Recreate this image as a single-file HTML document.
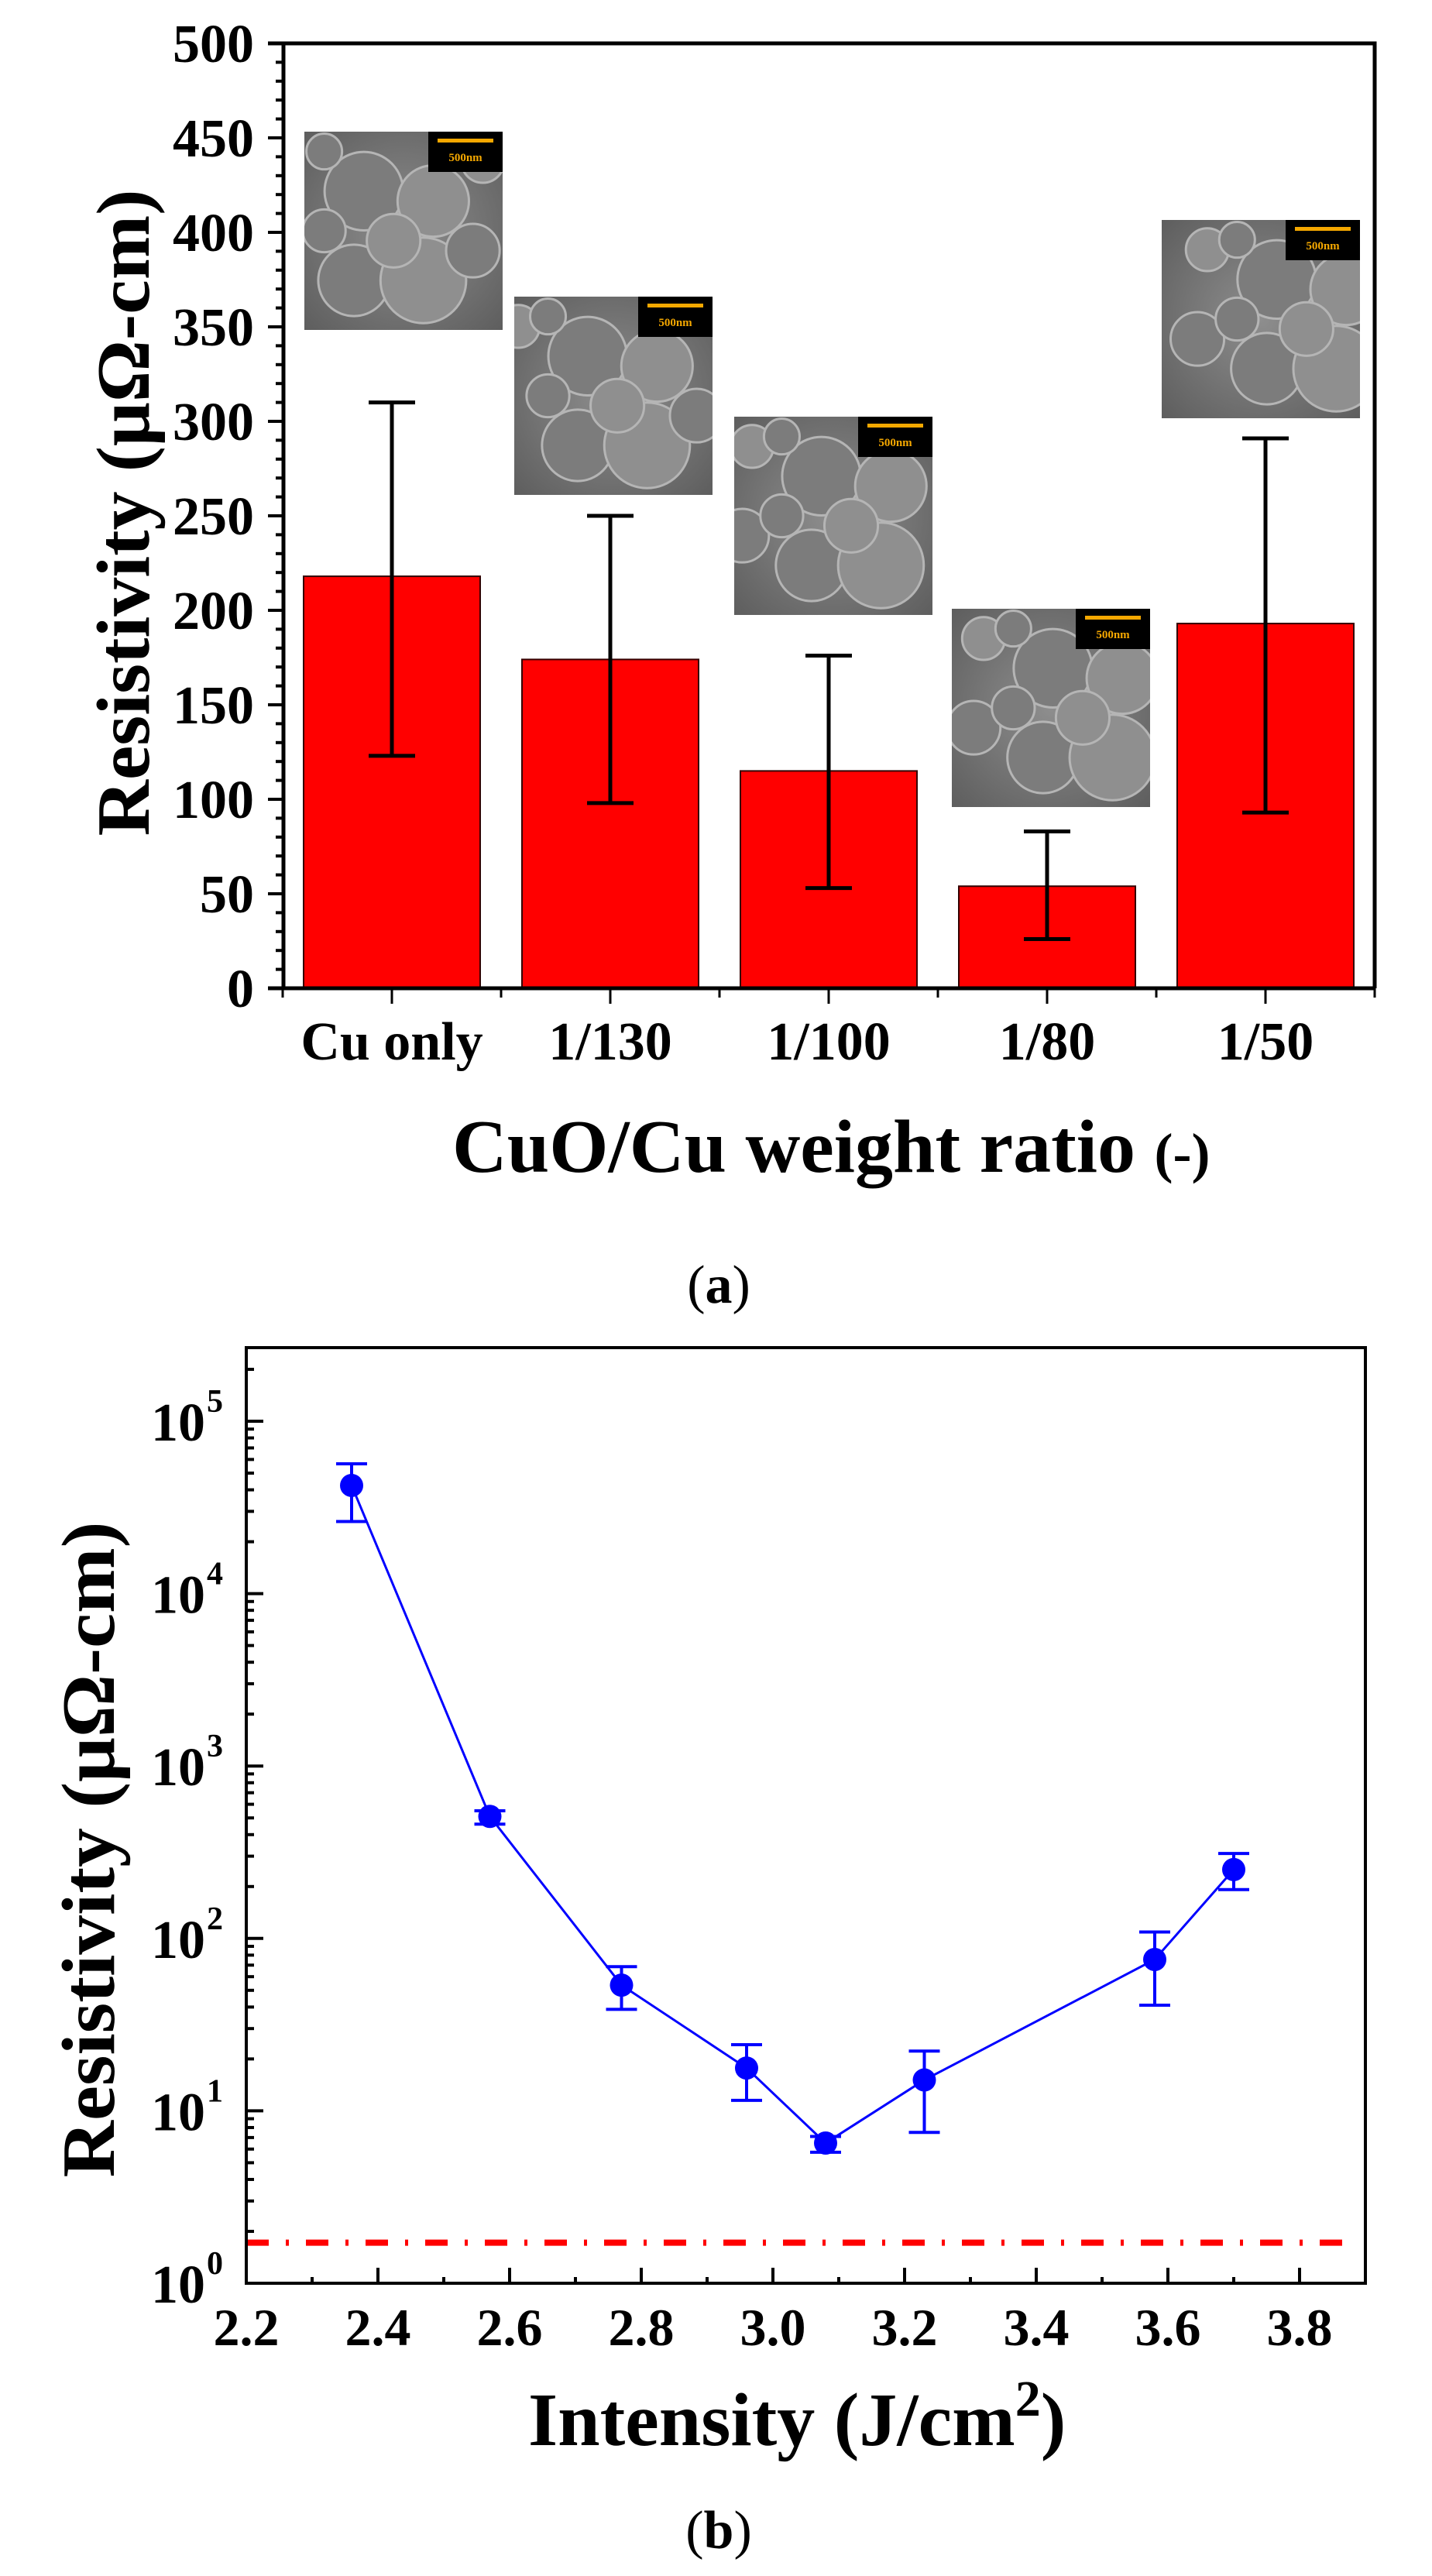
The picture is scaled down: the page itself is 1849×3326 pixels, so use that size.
<!DOCTYPE html>
<html><head><meta charset="utf-8"><style>
html,body{margin:0;padding:0;background:#fff;}
svg{display:block;font-family:"Liberation Serif",serif;}
</style></head><body>
<svg id="fig" width="1849" height="3326" viewBox="0 0 1849 3326" xmlns="http://www.w3.org/2000/svg">
<defs>
<radialGradient id="sem" cx="50%" cy="50%" r="70%"><stop offset="0" stop-color="#8e8e8e"/><stop offset="1" stop-color="#5e5e5e"/></radialGradient>
</defs>
<g id="chartA"></g>
<g id="chartB"></g>
<text x="928" y="1682" font-size="70" text-anchor="middle">(<tspan font-weight="bold">a</tspan>)</text>
<text x="928" y="3290" font-size="70" text-anchor="middle">(<tspan font-weight="bold">b</tspan>)</text>
</svg>
<script>
// ---- Chart A data ----
const catsA = ["Cu only","1/130","1/100","1/80","1/50"];
const valsA = [218,174,115,54,193];
const errHiA = [310,250,176,83,291];
const errLoA = [123,98,53,26,93];
const yTicksA = [0,50,100,150,200,250,300,350,400,450,500];
// ---- Chart B data ----
const xB = [2.36,2.57,2.77,2.96,3.08,3.23,3.58,3.70];
const yB = [42400,510,53.6,17.7,6.5,15.1,75.5,251];
const yBhi = [56600,550,68.6,24.2,7.1,22.2,109,311];
const yBlo = [26200,460,38.8,11.5,5.75,7.5,41,192];
const xTicksB = ["2.2","2.4","2.6","2.8","3.0","3.2","3.4","3.6","3.8"];
const yTicksBExp = [0,1,2,3,4,5];
const refLineB = [1.72];

const NS="http://www.w3.org/2000/svg";
function mk(parent,tag,attrs,text){const e=document.createElementNS(NS,tag);for(const k in attrs)e.setAttribute(k,attrs[k]);if(text!==undefined)e.textContent=text;parent.appendChild(e);return e;}

// ===== Chart A =====
(function(){
const g=document.getElementById('chartA');
const L=366,R=1775,T=56,B=1276;
const yS=v=>B-(v/500)*(B-T);
const c0=506,step=282,bw=228;
const xS=i=>c0+i*step;
const defs=document.querySelector('defs');
const sem=[[393,170],[664,383],[948,538],[1229,786],[1500,284]];
const blobs=[[0.3,0.3,0.22],[0.65,0.35,0.2],[0.25,0.75,0.2],[0.6,0.75,0.24],[0.85,0.6,0.15],[0.45,0.55,0.15],[0.1,0.5,0.12],[0.9,0.15,0.12],[0.1,0.1,0.1]];
sem.forEach((p,k)=>{
  const cp=mk(defs,'clipPath',{id:'semclip'+k});
  mk(cp,'rect',{x:p[0],y:p[1],width:256,height:256});
  const s=mk(g,'g',{'clip-path':'url(#semclip'+k+')'});
  
  
  mk(s,'rect',{x:p[0],y:p[1],width:256,height:256,fill:'url(#sem)'});
  blobs.forEach((b,j)=>{mk(s,'circle',{cx:p[0]+256*((b[0]+k*0.07)%0.95),cy:p[1]+256*b[1],r:256*b[2]*0.9,fill:j%2?'#8f8f8f':'#7c7c7c',stroke:'#b5b5b5','stroke-width':3});});
  mk(s,'rect',{x:p[0]+160,y:p[1],width:96,height:52,fill:'#000'});
  mk(s,'rect',{x:p[0]+172,y:p[1]+9,width:72,height:5,fill:'#f5a800'});
  mk(s,'text',{x:p[0]+208,y:p[1]+38,'font-size':15,'font-weight':'bold',fill:'#f5a800','text-anchor':'middle'},'500nm');
});
valsA.forEach((v,i)=>{
  const r=mk(g,'rect',{x:xS(i)-bw/2,y:yS(v),width:bw,height:B-yS(v),fill:'#ff0000',stroke:'#300',"stroke-width":2});
  
  
  const e=mk(g,'path',{d:`M${xS(i)},${yS(errHiA[i])}V${yS(errLoA[i])}M${xS(i)-30},${yS(errHiA[i])}h60M${xS(i)-30},${yS(errLoA[i])}h60`,stroke:'#000','stroke-width':5,fill:'none'});
  
  
  const t=mk(g,'text',{x:xS(i),y:1368,'font-size':70,'font-weight':'bold','text-anchor':'middle'},catsA[i]);
  
  
  mk(g,'line',{x1:xS(i),y1:B,x2:xS(i),y2:B+20,stroke:'#000','stroke-width':3});
  mk(g,'line',{x1:xS(i)-step/2,y1:B,x2:xS(i)-step/2,y2:B+12,stroke:'#000','stroke-width':3});
});
mk(g,'line',{x1:xS(4)+step/2,y1:B,x2:xS(4)+step/2,y2:B+12,stroke:'#000','stroke-width':3});
mk(g,'path',{d:`M${L-20},${T}H${R}V${B}M${L},${T}V${B}M${L-20},${B}H${R}`,stroke:'#000','stroke-width':5,fill:'none'});
for(let v=0;v<=500;v+=10){mk(g,'line',{x1:L,y1:yS(v),x2:L-(v%50?10:20),y2:yS(v),stroke:'#000','stroke-width':4});}
yTicksA.forEach(v=>{const t=mk(g,'text',{x:328,y:yS(v)+24,'font-size':70,'font-weight':'bold','text-anchor':'end'},String(v));
  
  });
const yt=mk(g,'text',{x:0,y:0,'font-size':98,'font-weight':'bold','text-anchor':'middle',transform:'translate(192,662) rotate(-90)',textLength:835,lengthAdjust:'spacingAndGlyphs'},'Resistivity (μΩ-cm)');


const xt=mk(g,'text',{x:584,y:1513,'font-size':98,'font-weight':'bold'});


mk(xt,'tspan',{},'CuO/Cu weight ratio ');mk(xt,'tspan',{'font-size':72},'(-)');
})();

// ===== Chart B =====
(function(){
const g=document.getElementById('chartB');
const L=318,R=1763,T=1740,B=2948;
const dec=222.6;
const xS=x=>L+(x-2.2)/1.7*(R-L);
const yS=v=>B-Math.log10(v)*dec;
const rl=mk(g,'line',{x1:L,x2:R-8,y1:yS(refLineB[0]),y2:yS(refLineB[0]),stroke:'#ff0000','stroke-width':8,'stroke-dasharray':'29 22 4 22'});


mk(g,'rect',{x:L,y:T,width:R-L,height:B-T,fill:'none',stroke:'#000','stroke-width':4});
for(let i=0;i<=17;i++){const x=xS(2.2+i*0.1);mk(g,'line',{x1:x,y1:B,x2:x,y2:B-(i%2?8:20),stroke:'#000','stroke-width':4});}
xTicksB.forEach(s=>{const t=mk(g,'text',{x:xS(parseFloat(s)),y:3028,'font-size':68,'font-weight':'bold','text-anchor':'middle'},s);
  
  });
for(let d=0;d<=5;d++){for(let m=1;m<=9;m++){const v=m*Math.pow(10,d);if(yS(v)<T)continue;mk(g,'line',{x1:L,y1:yS(v),x2:L+(m===1?22:10),y2:yS(v),stroke:'#000','stroke-width':4});}}
yTicksBExp.forEach(e=>{const t=mk(g,'text',{x:265,y:yS(Math.pow(10,e))+25,'font-size':70,'font-weight':'bold','text-anchor':'end'},'10');
  
  
  mk(g,'text',{x:267,y:yS(Math.pow(10,e))-12,'font-size':42,'font-weight':'bold'},String(e));});
const pl=mk(g,'polyline',{points:xB.map((x,i)=>xS(x)+','+yS(yB[i])).join(' '),fill:'none',stroke:'#0000ff','stroke-width':3});


xB.forEach((x,i)=>{
  const e=mk(g,'path',{d:`M${xS(x)},${yS(yBhi[i])}V${yS(yBlo[i])}M${xS(x)-20},${yS(yBhi[i])}h40M${xS(x)-20},${yS(yBlo[i])}h40`,stroke:'#0000ff','stroke-width':4,fill:'none'});
  
  
  const c=mk(g,'circle',{cx:xS(x),cy:yS(yB[i]),r:15,fill:'#0000ff'});
  
  
});
const yt=mk(g,'text',{x:0,y:0,'font-size':98,'font-weight':'bold','text-anchor':'middle',transform:'translate(147,2388) rotate(-90)',textLength:847,lengthAdjust:'spacingAndGlyphs'},'Resistivity (μΩ-cm)');


const xt=mk(g,'text',{x:682,y:3157,'font-size':98,'font-weight':'bold'});


mk(xt,'tspan',{},'Intensity (J/cm');mk(xt,'tspan',{'font-size':66,dy:-38},'2');mk(xt,'tspan',{dy:38},')');
})();
</script>
</body></html>
